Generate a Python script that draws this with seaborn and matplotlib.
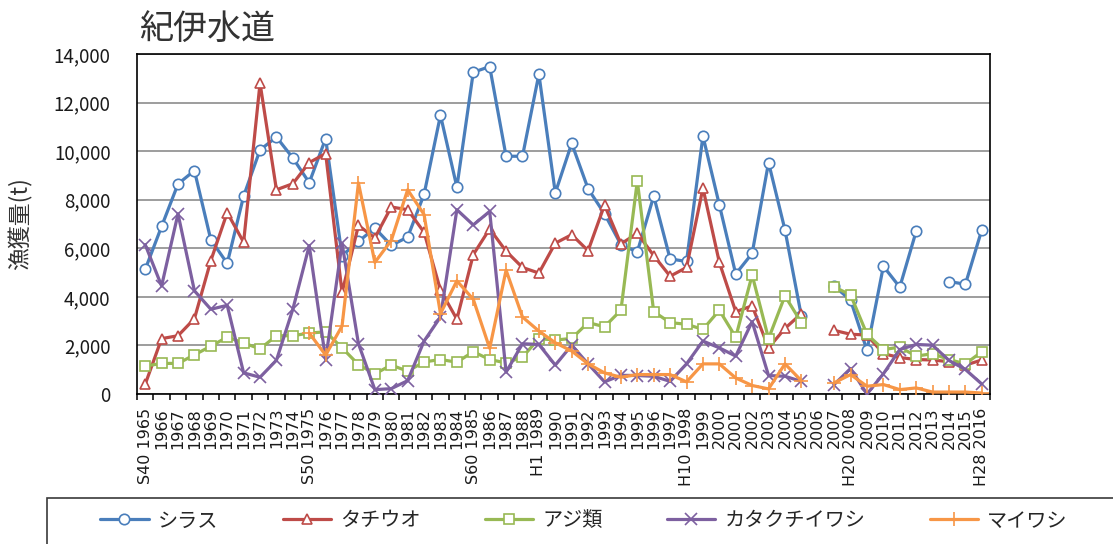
import numpy as np
import pandas as pd
import matplotlib
matplotlib.use("Agg")
import matplotlib.pyplot as plt
from matplotlib.lines import Line2D
from matplotlib.patches import Rectangle
import seaborn as sns

# ---- data -------------------------------------------------------------
years = list(range(1965, 2017))
eras = {1965: "S40", 1975: "S50", 1985: "S60", 1989: "H1",
        1998: "H10", 2008: "H20", 2016: "H28"}
nan = np.nan

shirasu = [5130, 6900, 8650, 9200, 6350, 5380, 8150, 10050, 10580, 9720,
           8700, 10520, 5700, 6280, 6830, 6120, 6460, 8220, 11480, 8520,
           13250, 13480, 9790, 9790, 13170, 8280, 10320, 8450, 7420, 6150,
           5850, 8150, 5560, 5460, 10620, 7790, 4940, 5790, 9530, 6760,
           3210, nan, 4450, 3860, 1800, 5260, 4400, 6700, nan, 4630,
           4520, 6760]
tachiuo = [400, 2280, 2400, 3100, 5490, 7470, 6250, 12800, 8410, 8660,
           9530, 9900, 4180, 6940, 6430, 7700, 7590, 6660, 4280, 3080,
           5740, 6800, 5880, 5210, 4980, 6210, 6560, 5900, 7780, 6180,
           6620, 5700, 4850, 5210, 8480, 5420, 3390, 3630, 1900, 2700,
           3310, nan, 2620, 2460, 2430, 1660, 1500, 1420, 1400, 1330,
           1190, 1400]
aji = [1150, 1260, 1260, 1610, 1970, 2340, 2100, 1860, 2400, 2400,
       2510, 2560, 1900, 1210, 830, 1190, 940, 1320, 1420, 1310,
       1740, 1420, 1280, 1520, 2280, 2220, 2290, 2940, 2770, 3450,
       8770, 3390, 2940, 2870, 2660, 3450, 2340, 4900, 2280, 4040,
       2940, nan, 4410, 4080, 2460, 1830, 1930, 1560, 1660, 1420,
       1240, 1740]
katakuchi = [6150, 4450, 7420, 4250, 3490, 3650, 870, 690, 1390, 3490,
             6110, 1420, 6200, 2070, 180, 220, 550, 2180, 3170, 7590,
             6960, 7520, 900, 2070, 2040, 1190, 2010, 1240, 500, 770,
             760, 730, 520, 1240, 2180, 1900, 1560, 2980, 760, 730,
             520, nan, 390, 1050, 0, 830, 1830, 2040, 2010, 1380,
             1010, 410]
maiwashi = [nan, nan, nan, nan, nan, nan, nan, nan, nan, nan,
            2510, 1600, 2800, 8690, 5420, 6320, 8410, 7390, 3310, 4660,
            3900, 1880, 5100, 3170, 2590, 2110, 1770, 1240, 870, 690,
            800, 800, 800, 500, 1240, 1240, 660, 350, 210, 1240,
            550, nan, 460, 800, 320, 390, 180, 250, 80, 80,
            80, 40]

series_names = ["シラス", "タチウオ", "アジ類", "カタクチイワシ", "マイワシ"]
series_values = [shirasu, tachiuo, aji, katakuchi, maiwashi]
colors = ["#4A7EBB", "#BE4B48", "#98B954", "#7D60A0", "#F79646"]
markers = ["o", "^", "s", "x", "+"]
open_marker = [True, True, True, False, False]
marker_sizes = [7.5, 7.5, 7.5, 8.5, 10]

df = pd.DataFrame({"year": years})
for name, vals in zip(series_names, series_values):
    df[name] = vals

# ---- style ------------------------------------------------------------
sns.set_theme(style="white")
plt.rcParams["font.family"] = ["Noto Sans CJK JP", "DejaVu Sans"]
text_color = "#1A1A1A"

W, H = 1113, 544
fig = plt.figure(figsize=(W / 100, H / 100), dpi=100)
left, right, top, bottom = 137, 990, 54, 394
ax = fig.add_axes([left / W, 1 - bottom / H, (right - left) / W, (bottom - top) / H])

# ---- lines (each unbroken run of values drawn as its own line) --------
for z, (name, color, mk, is_open, ms) in enumerate(
        zip(series_names, colors, markers, open_marker, marker_sizes)):
    sub = df[["year", name]]
    valid = sub[name].notna()
    run_id = (valid != valid.shift()).cumsum()
    for _, seg in sub[valid].groupby(run_id[valid]):
        sns.lineplot(data=seg, x="year", y=name, ax=ax, color=color,
                     linewidth=2.3, marker=mk, markersize=ms,
                     markeredgecolor=color,
                     markerfacecolor="white" if is_open else color,
                     markeredgewidth=1.2, legend=False, zorder=3 + z)

# ---- axes -------------------------------------------------------------
ax.set_xlim(years[0] - 0.5, years[-1] + 0.5)
ax.set_ylim(0, 14000)
yticks = list(range(0, 14001, 2000))
ax.set_yticks(yticks)
ax.set_yticklabels([f"{v:,}" for v in yticks])

xlabels = [f"{eras[y]} {y}" if y in eras else str(y) for y in years]
ax.set_xticks(years)
ax.set_xticklabels(xlabels, rotation=90, family=["DejaVu Sans"])
ax.set_xticks(np.arange(years[0] - 0.5, years[-1] + 1.0, 1.0), minor=True)

ax.tick_params(axis="x", which="major", length=0, pad=10,
               labelsize=11.5, labelcolor=text_color, bottom=True)
ax.tick_params(axis="x", which="minor", length=4.5, width=1.1,
               color="black", direction="out", bottom=True)
ax.tick_params(axis="y", which="major", length=0, pad=19,
               labelsize=13.5, labelcolor=text_color, left=True)

ax.grid(False)
ax.yaxis.grid(True, color="#8C8C8C", linewidth=1.2)
ax.set_axisbelow(True)
for sp in ax.spines.values():
    sp.set_visible(True)
    sp.set_color("black")
    sp.set_linewidth(1.2)

ax.set_xlabel("")
ax.set_ylabel("漁獲量(t)", fontsize=16.5, color="#333333")
ax.yaxis.set_label_coords((33 - left) / (right - left), 0.5)

# ---- title ------------------------------------------------------------
fig.text(139 / W, 1 - 39 / H, "紀伊水道", fontsize=24.5, color="#333333",
         ha="left", va="baseline")

# ---- legend -----------------------------------------------------------
handles = [Line2D([], [], color=c, linewidth=2.3, marker=m, markersize=s,
                  markeredgecolor=c, markerfacecolor="white" if o else c,
                  markeredgewidth=1.2)
           for c, m, o, s in zip(colors, markers, open_marker, marker_sizes)]
fig.legend(handles, series_names, loc="center", ncol=5,
           bbox_to_anchor=(584 / W, 1 - 521 / H), frameon=False,
           fontsize=14.5, handlelength=2.4, handletextpad=0.45,
           columnspacing=3.2, labelcolor="#262626")
fig.add_artist(Rectangle((47 / W, -0.2), 1.2, 0.2 + (H - 498) / H,
                         transform=fig.transFigure, fill=False,
                         edgecolor="#3A3A3A", linewidth=1.2, clip_on=False))

fig.savefig("out.png", dpi=100)
